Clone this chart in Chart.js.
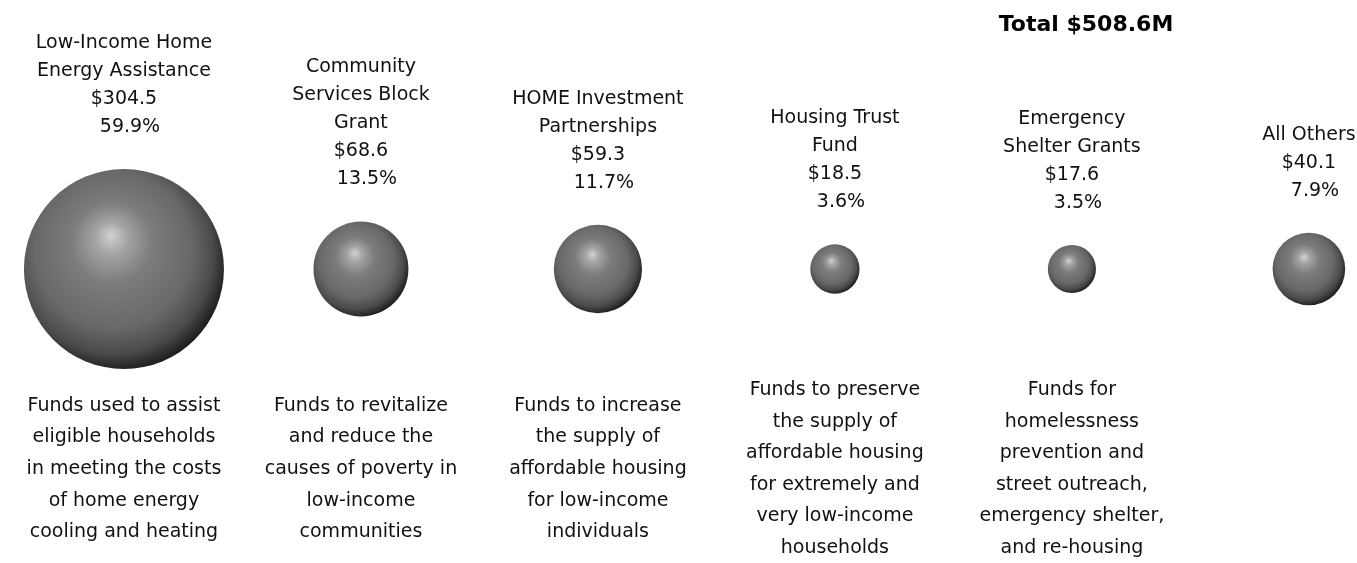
<!DOCTYPE html>
<html>
<head>
<meta charset="utf-8">
<script src="https://cdn.jsdelivr.net/npm/chart.js@4.4.0/dist/chart.umd.min.js"></script>
<style>
  html, body { margin: 0; padding: 0; background: #fff; }
  #wrap { width: 1357px; height: 563px; position: relative; }
</style>
</head>
<body>
<div id="wrap"><canvas id="chart"></canvas></div>
<script>
// Program names (split into lines as in the source graphic)
const programs = [
    ['Low-Income Home', 'Energy Assistance'],
    ['Community', 'Services Block', 'Grant'],
    ['HOME Investment', 'Partnerships'],
    ['Housing Trust', 'Fund'],
    ['Emergency', 'Shelter Grants'],
    ['All Others']
];
// Funding in $ millions
const amounts = [304.5, 68.6, 59.3, 18.5, 17.6, 40.1];
// Share of total, percent
const shares = [59.9, 13.5, 11.7, 3.6, 3.5, 7.9];
const total = 508.6;
const descriptions = [
    ['Funds used to assist', 'eligible households', 'in meeting the costs', 'of home energy', 'cooling and heating'],
    ['Funds to revitalize', 'and reduce the', 'causes of poverty in', 'low-income', 'communities'],
    ['Funds to increase', 'the supply of', 'affordable housing', 'for low-income', 'individuals'],
    ['Funds to preserve', 'the supply of', 'affordable housing', 'for extremely and', 'very low-income', 'households'],
    ['Funds for', 'homelessness', 'prevention and', 'street outreach,', 'emergency shelter,', 'and re-housing'],
    []
];

const FONT = '"DejaVu Sans", sans-serif';
const MAX_RADIUS = 100; // pixel radius of the largest bubble

// bubble area proportional to amount
const maxAmt = Math.max(...amounts);
const bubbleData = amounts.map((v, i) => ({ x: i, y: 0, r: MAX_RADIUS * Math.sqrt(v / maxAmt) }));

// Shaded sphere look for each bubble
const sphereShading = {
    id: 'sphereShading',
    beforeDatasetsDraw(chart) {
        const ctx = chart.ctx;
        chart.getDatasetMeta(0).data.forEach(pt => {
            const r = pt.options.radius;
            const g = ctx.createRadialGradient(
                pt.x - 0.13 * r, pt.y - 0.34 * r, 0,
                pt.x - 0.1 * r, pt.y - 0.12 * r, 1.16 * r
            );
            g.addColorStop(0, '#d2d2d2');
            g.addColorStop(0.14, '#a4a4a4');
            g.addColorStop(0.35, '#7c7c7c');
            g.addColorStop(0.68, '#686868');
            g.addColorStop(0.86, '#4a4a4a');
            g.addColorStop(1, '#1a1a1a');
            pt.options.backgroundColor = g;
        });
    }
};

// Names, amounts and descriptions around each bubble
const textLabels = {
    id: 'textLabels',
    afterDatasetsDraw(chart) {
        const ctx = chart.ctx;
        ctx.save();
        ctx.fillStyle = '#111';
        ctx.textAlign = 'center';
        ctx.textBaseline = 'middle';

        chart.getDatasetMeta(0).data.forEach((pt, i) => {
            const r = pt.options.radius;
            const lines = programs[i].concat(['$' + amounts[i].toFixed(1), '  ' + shares[i].toFixed(1) + '%']);
            ctx.font = '19px ' + FONT;
            let y = Math.min(pt.y - r - 42, 204) - (lines.length - 1) * 28;
            lines.forEach(l => { ctx.fillText(l, pt.x, y); y += 28; });

            const desc = descriptions[i];
            let dy = 469 - (desc.length - 1) * 31.6 / 2;
            desc.forEach(l => { ctx.fillText(l, pt.x, dy); dy += 31.6; });
        });

        ctx.font = 'bold 22px ' + FONT;
        ctx.fillStyle = '#000';
        ctx.fillText('Total $' + total.toFixed(1) + 'M', 1086, 25);
        ctx.restore();
    }
};

new Chart(document.getElementById('chart'), {
    type: 'bubble',
    data: {
        datasets: [{
            data: bubbleData,
            backgroundColor: '#707070',
            borderWidth: 0,
            clip: false
        }]
    },
    options: {
        responsive: true,
        maintainAspectRatio: false,
        animation: false,
        layout: { autoPadding: false, padding: { top: 0, bottom: 25, left: 0, right: 0 } },
        scales: {
            x: { type: 'linear', min: -0.523, max: 5.203, display: false },
            y: { min: -1, max: 1, display: false }
        },
        plugins: {
            legend: { display: false },
            tooltip: { enabled: false }
        }
    },
    plugins: [sphereShading, textLabels]
});
</script>
</body>
</html>
